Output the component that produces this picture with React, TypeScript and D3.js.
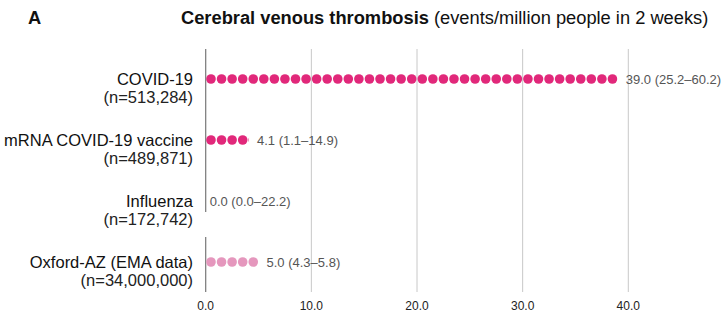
import React from "react";
import * as d3 from "d3";

const categories = ["COVID-19", "mRNA COVID-19 vaccine", "Influenza", "Oxford-AZ (EMA data)"];
const sampleSizes = ["(n=513,284)", "(n=489,871)", "(n=172,742)", "(n=34,000,000)"];
const values = [39.0, 4.1, 0.0, 5.0];
const ciLow = [25.2, 1.1, 0.0, 4.3];
const ciHigh = [60.2, 14.9, 22.2, 5.8];
const isEMA = [false, false, false, true];
const ticks = [0, 10, 20, 30, 40];

const W = 725;
const H = 326;
const FONT = "'Liberation Sans', Arial, Helvetica, sans-serif";
const DARK = "#e1287a";
const LIGHT = "#e597bd";

export default function App() {
  const x = d3.scaleLinear().domain([0, 40]).range([205.7, 628.3]);
  const y = d3.scalePoint<string>().domain(categories).range([79, 262]);
  const r = 4.8;
  const top = 49;
  const bottom = 292;
  const fmt = d3.format(".1f");

  return (
    <svg width={W} height={H} style={{ position: "absolute", left: 0, top: 0, fontFamily: FONT }}>
      <rect width={W} height={H} fill="#fff" />
      <text x={28} y={24} fontSize={18.3} fontWeight="bold" fill="#111">A</text>
      <text x={181} y={24} fontSize={18.3} fill="#111">
        <tspan fontWeight="bold">Cerebral venous thrombosis</tspan>
        <tspan> (events/million people in 2 weeks)</tspan>
      </text>

      {ticks.filter((t) => t > 0).map((t) => (
        <line key={t} x1={x(t)} x2={x(t)} y1={top} y2={bottom} stroke="#c8c8c8" strokeWidth={1} />
      ))}
      <line x1={x(0)} x2={x(0)} y1={top} y2={(y(categories[2]) as number) + 11} stroke="#777" strokeWidth={1.2} />
      <line x1={x(0)} x2={x(0)} y1={(y(categories[3]) as number) - 25} y2={bottom} stroke="#777" strokeWidth={1.2} />

      {ticks.map((t) => (
        <text key={t} x={x(t)} y={310} fontSize={12} textAnchor="middle" fill="#222">{fmt(t)}</text>
      ))}

      <defs>
        {categories.map((c, i) => (
          <clipPath key={c} id={`clip${i}`}>
            <rect x={x(0)} y={(y(c) as number) - 10} width={x(values[i]) - x(0)} height={20} />
          </clipPath>
        ))}
      </defs>

      {categories.map((c, i) => {
        const cy = y(c) as number;
        const n = Math.ceil(values[i]);
        const dots = d3.range(n);
        const color = isEMA[i] ? LIGHT : DARK;
        return (
          <g key={c}>
            <text x={193} y={cy + 6} fontSize={16.5} textAnchor="end" fill="#111">{c}</text>
            <text x={193} y={cy + 24} fontSize={16.5} textAnchor="end" fill="#222">{sampleSizes[i]}</text>
            <g clipPath={`url(#clip${i})`}>
              {dots.map((d) => (
                <circle key={d} cx={x(d + 0.5)} cy={cy} r={r} fill={color} />
              ))}
            </g>
            <text x={x(values[i]) + (values[i] > 0 ? 8 : 4)} y={cy + 5} fontSize={13} fill="#555">
              {`${fmt(values[i])} (${fmt(ciLow[i])}–${fmt(ciHigh[i])})`}
            </text>
          </g>
        );
      })}
    </svg>
  );
}
